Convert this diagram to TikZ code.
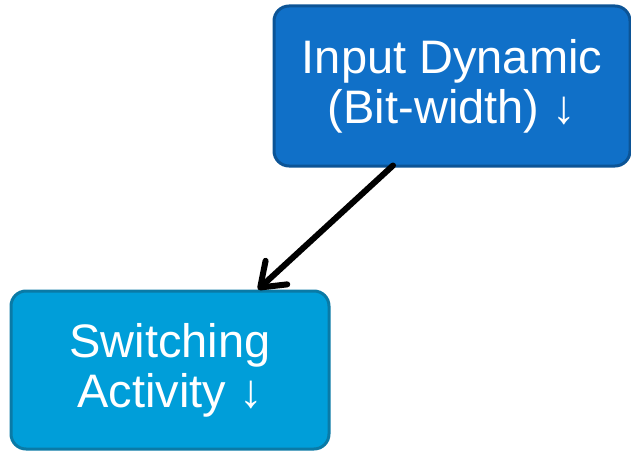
\documentclass[tikz,border=0pt]{standalone}
\usepackage{fontspec}
\setmainfont{Liberation Sans}
\usetikzlibrary{arrows.meta, positioning}
\definecolor{inpfill}{RGB}{16,112,200}
\definecolor{inpline}{RGB}{12,84,150}
\definecolor{swfill}{RGB}{0,158,217}
\definecolor{swline}{RGB}{10,122,166}
\tikzset{
  blockbox/.style={rounded corners=15pt, line width=3pt, align=center,
    text=white, font=\fontsize{47}{50}\selectfont, inner sep=0pt},
  effect/.style={-{Straight Barb[length=22pt,width=32pt,round]},
    line width=6pt, line cap=round, black}
}

\begin{document}
\begin{tikzpicture}[x=1pt,y=1pt]
  \useasboundingbox (0,0) rectangle (631,-452);

  \node[blockbox, fill=inpfill, draw=inpline,
        minimum width=356pt, minimum height=160pt] (inp) at (452,-86)
        {Input Dynamic\\(Bit-width) ↓};

  \node[blockbox, fill=swfill, draw=swline,
        minimum width=318pt, minimum height=158pt] (sw) at (170,-370)
        {Switching\\Activity ↓};

  \draw[effect] ([xshift=-59pt,yshift=2pt]inp.south) -- ([xshift=88pt]sw.north);

\end{tikzpicture}
\end{document}
